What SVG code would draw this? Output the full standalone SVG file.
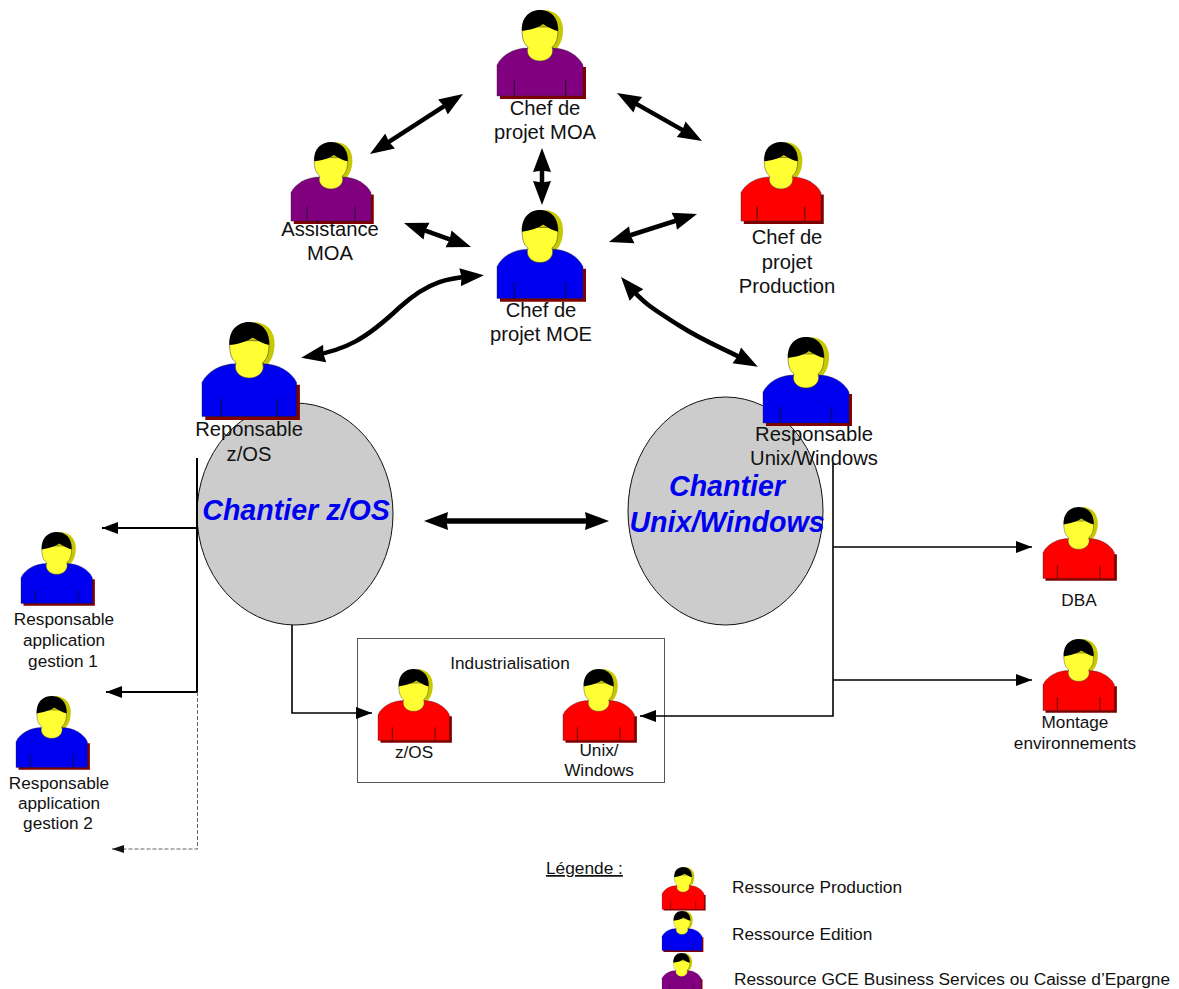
<svg xmlns="http://www.w3.org/2000/svg" width="1179" height="989" viewBox="0 0 1179 989">
<style>
text{font-family:"Liberation Sans",Arial,sans-serif;fill:#111;text-anchor:middle}
.l{font-size:20.2px}.m{font-size:17.2px}.s{font-size:17.2px}
.c{font-size:28.6px;font-weight:bold;font-style:italic;fill:#0000f0}
.t{font-size:17.3px;text-anchor:start}
.a{fill:none;stroke:#000}
.bl{fill:#0000f0}.re{fill:#f00}.pu{fill:#800080}
</style>
<defs>
<marker id="big" markerUnits="userSpaceOnUse" markerWidth="28" markerHeight="22" refX="14" refY="10" orient="auto-start-reverse"><path d="M0,1 L24,10 L0,19 L1.500,10 Z" fill="#000"/></marker>
<marker id="small" markerUnits="userSpaceOnUse" markerWidth="18" markerHeight="14" refX="16" refY="6" orient="auto"><path d="M0,0 L16,6 L0,12 Z" fill="#000"/></marker>
<marker id="grey" markerUnits="userSpaceOnUse" markerWidth="14" markerHeight="10" refX="12" refY="4" orient="auto"><path d="M0,0 L12,4 L0,8 Z" fill="#111"/></marker>
<g id="p">
<path d="M3,86 V89 H89 V57 H85 V85 H3 Z" fill="#800000"/>
<path d="M48,0 C60,1 66,9 66,20 C66,30 62,37 58,40 L50,44 L40,10 Z" fill="#c8c800"/>
<path d="M0,86 V55 C5,45 17,38 31,38 H55 C69,38 81,45 86,55 V86 Z" stroke="#222" stroke-width=".4"/>
<path d="M17.3,70 V86 M68.7,70 V86" stroke="#111" stroke-width=".8" fill="none"/>
<path d="M25,17 C25,28 26,33 31,37 C28,45 35,51 43,51 C51,51 58,45 55,37 C60,33 61,28 61,17 Z" fill="#ffff33" stroke="#333" stroke-width=".5"/>
<path d="M25,21 C24,7 33,0 43,0 C53,0 62,7 61,21 C56,20 51,17 46,14 C41,18 32,20 25,21 Z" fill="#000"/>
</g>
</defs>
<rect width="1179" height="989" fill="#fff"/>

<g id="ellipses">
<ellipse id="chantier-zos" cx="295" cy="514" rx="98" ry="111" fill="#ccc" stroke="#111" stroke-width="1"/>
<ellipse id="chantier-unix" cx="725.5" cy="511" rx="97.5" ry="114" fill="#ccc" stroke="#111" stroke-width="1"/>
<text class="c" x="296" y="520">Chantier z/OS</text>
<text class="c" x="727" y="496">Chantier</text>
<text class="c" x="727" y="532">Unix/Windows</text>
</g>

<g id="box-industrialisation">
<rect x="357.500" y="638.500" width="307" height="144" fill="none" stroke="#555" stroke-width="1"/>
<text class="s" x="510" y="669">Industrialisation</text>
</g>

<g id="connectors">
<path class="a" stroke-width="4.500" d="M378.400,148.600 L454.600,99.400" marker-start="url(#big)" marker-end="url(#big)"/>
<path class="a" stroke-width="4.500" d="M625.700,97.900 L693.300,136.100" marker-start="url(#big)" marker-end="url(#big)"/>
<path class="a" stroke-width="4.500" d="M542,158 L542,195" marker-start="url(#big)" marker-end="url(#big)"/>
<path class="a" stroke-width="4.500" d="M413.400,226.400 L461.600,243.600" marker-start="url(#big)" marker-end="url(#big)"/>
<path class="a" stroke-width="4.500" d="M618.500,239 L687.500,217" marker-start="url(#big)" marker-end="url(#big)"/>
<path class="a" stroke-width="4.500" d="M311,356 C345,350 365,340 400,307 C430,280 450,278 474,276" marker-start="url(#big)" marker-end="url(#big)"/>
<path class="a" stroke-width="4.500" d="M627.500,284.500 C645,305 655,310 680,326 C705,342 725,349 749,362" marker-start="url(#big)" marker-end="url(#big)"/>
<path class="a" stroke-width="5.500" d="M434,521 H599" marker-start="url(#big)" marker-end="url(#big)"/>
<path class="a" stroke-width="2" d="M197,458 V692"/>
<path class="a" stroke-width="2" d="M197,528 H102" marker-end="url(#small)"/>
<path class="a" stroke-width="2" d="M197,692 H106" marker-end="url(#small)"/>
<path class="a" stroke-width="1" stroke-dasharray="4 2" style="stroke:#666" d="M197.500,692 V849 H112" marker-end="url(#grey)"/>
<path class="a" stroke-width="1.600" d="M292,625 V713 H372" marker-end="url(#small)"/>
<path class="a" stroke-width="1.600" d="M833,463 V716 H640" marker-end="url(#small)"/>
<path class="a" stroke-width="1.600" d="M833,547 H1032" marker-end="url(#small)"/>
<path class="a" stroke-width="1.600" d="M833,680 H1032" marker-end="url(#small)"/>
</g>

<g id="chef-moa"><use href="#p" class="pu" transform="translate(497,10)"/><text class="l" x="545" y="115">Chef de</text><text class="l" x="545" y="139">projet MOA</text></g>
<g id="assistance-moa"><use href="#p" class="pu" transform="translate(291,142) scale(.93,.92)"/><text class="l" x="330" y="236">Assistance</text><text class="l" x="330" y="260">MOA</text></g>
<g id="chef-moe"><use href="#p" class="bl" transform="translate(497,210) scale(1,1.03)"/><text class="l" x="541" y="317">Chef de</text><text class="l" x="541" y="341">projet MOE</text></g>
<g id="chef-production"><use href="#p" class="re" transform="translate(741,142) scale(.93,.92)"/><text class="l" x="787" y="244">Chef de</text><text class="l" x="787" y="269">projet</text><text class="l" x="787" y="293">Production</text></g>
<g id="resp-zos"><use href="#p" class="bl" transform="translate(202,322) scale(1.1,1.1)"/><text class="l" x="249" y="436">Reponsable</text><text class="l" x="249" y="461">z/OS</text></g>
<g id="resp-unix"><use href="#p" class="bl" transform="translate(763,337)"/><text class="l" x="814" y="441">Responsable</text><text class="l" x="814" y="465">Unix/Windows</text></g>
<g id="resp-app1"><use href="#p" class="bl" transform="translate(21,532) scale(.83,.83)"/><text class="m" x="64" y="625">Responsable</text><text class="m" x="64" y="646">application</text><text class="m" x="63" y="667">gestion 1</text></g>
<g id="resp-app2"><use href="#p" class="bl" transform="translate(16,696) scale(.83,.83)"/><text class="m" x="59" y="789">Responsable</text><text class="m" x="59" y="809">application</text><text class="m" x="58" y="829">gestion 2</text></g>
<g id="dba"><use href="#p" class="re" transform="translate(1043,507) scale(.83,.83)"/><text class="s" x="1079" y="606">DBA</text></g>
<g id="montage"><use href="#p" class="re" transform="translate(1043,639) scale(.83,.83)"/><text class="m" x="1075" y="728">Montage</text><text class="m" x="1075" y="749">environnements</text></g>
<g id="ind-zos"><use href="#p" class="re" transform="translate(378,669) scale(.83,.83)"/><text class="m" x="414" y="758">z/OS</text></g>
<g id="ind-unix"><use href="#p" class="re" transform="translate(563,669) scale(.83,.83)"/><text class="m" x="599" y="756">Unix/</text><text class="m" x="599" y="776">Windows</text></g>

<g id="legend">
<text class="t" x="546" y="874" text-decoration="underline">Légende :</text>
<use href="#p" class="re" transform="translate(662,867) scale(.49,.49)"/>
<text class="t" x="732" y="893">Ressource Production</text>
<use href="#p" class="bl" transform="translate(662,911) scale(.465,.46)"/>
<text class="t" x="732" y="940">Ressource Edition</text>
<use href="#p" class="pu" transform="translate(662,953) scale(.455,.46)"/>
<text class="t" x="734" y="985">Ressource GCE Business Services ou Caisse d’Epargne</text>
</g>
</svg>
